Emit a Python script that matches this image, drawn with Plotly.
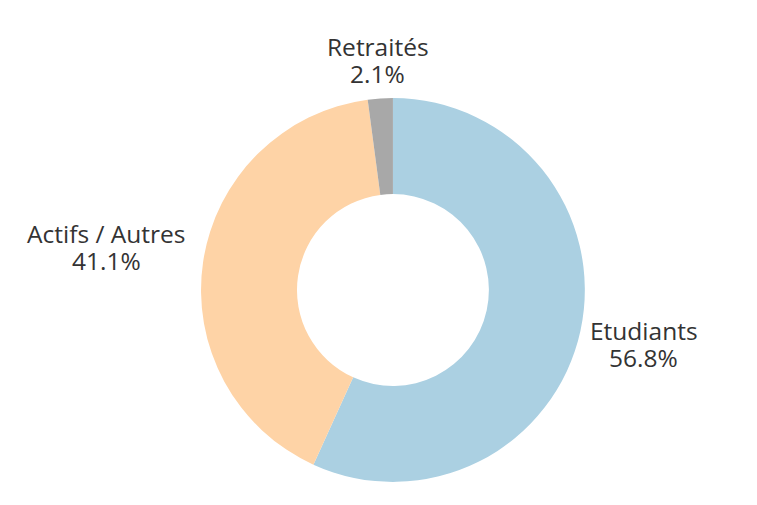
import math
import plotly.graph_objects as go

labels = ["Etudiants", "Actifs / Autres", "Retraités"]
values = [56.8, 41.1, 2.1]
colors = ["#abd0e2", "#fed3a6", "#a8a8a8"]

W, H = 757, 505
dom_x = [0.255, 0.762]
mt, mb = 90, 31
fsize = 24.5

fig = go.Figure(go.Pie(
    labels=labels,
    values=values,
    hole=0.5,
    direction="clockwise",
    sort=False,
    marker=dict(colors=colors, line=dict(width=0)),
    textinfo="none",
    hoverinfo="label+percent",
    showlegend=False,
    domain=dict(x=dom_x, y=[0, 1]),
))

# labels outside the ring, centred on the middle direction of each slice,
# pushed out just far enough for the text box to clear the ring
plot_h = H - mt - mb
r_px = plot_h / 2
cx = sum(dom_x) / 2
cy = 0.5
total = sum(values)
start = 0
for lab, v in zip(labels, values):
    mid = (start + v / 2) / total * 2 * math.pi
    start += v
    dx, dy = math.sin(mid), math.cos(mid)
    pct = "%.1f%%" % (v / total * 100)
    hw = 0.475 * fsize * max(len(lab), len(pct)) / 2
    hh = 27
    d = 1.04 * r_px + hw * abs(dx) + hh * abs(dy)
    x = cx + d * dx / W
    y = cy + d * dy / plot_h
    for txt, shift in [(lab, 13.5), (pct, -13.5)]:
        fig.add_annotation(
            x=x, y=y, xref="paper", yref="paper",
            xanchor="center", yanchor="middle", yshift=shift,
            text=txt, showarrow=False,
            font=dict(size=fsize, color="#333333", family="Open Sans"),
        )

fig.update_layout(
    width=W,
    height=H,
    margin=dict(l=0, r=0, t=mt, b=mb),
    paper_bgcolor="white",
    font=dict(family="Open Sans"),
)

fig.write_html("out.html")
